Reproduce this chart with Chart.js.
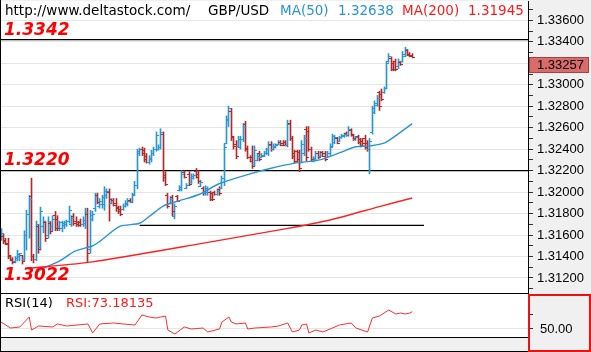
<!DOCTYPE html>
<html><head><meta charset="utf-8">
<script src="https://cdn.jsdelivr.net/npm/chart.js@4.4.1/dist/chart.umd.min.js"></script>
<style>
html,body{margin:0;padding:0;background:#fff;}
#wrap{position:relative;width:591px;height:352px;overflow:hidden;background:#fff;}
canvas{display:block;position:absolute;left:0;}
</style></head><body>
<div id="wrap">
<canvas id="main" width="591" height="294" style="top:0;width:591px;height:294px"></canvas>
<canvas id="rsi" width="591" height="58" style="top:294px;width:591px;height:58px"></canvas>
</div>
<script>
// ---------- DATA ----------
const symbol = 'GBP/USD';
const site = 'http://www.deltastock.com/';
const openP = [1.3157,1.3159,1.3155,1.3153,1.3140,1.3138,1.3136,1.3139,1.3140,1.3141,
1.3138,1.3160,1.3180,1.3196,1.3140,1.3138,1.3168,1.3149,1.3168,1.3172,
1.3160,1.3171,1.3168,1.3179,1.3175,1.3168,1.3167,1.3169,1.3170,1.3173,
1.3170,1.3178,1.3173,1.3172,1.3172,1.3170,1.3171,1.3180,1.3147,1.3175,
1.3185,1.3197,1.3187,1.3189,1.3189,1.3197,1.3200,1.3190,1.3193,1.3190,
1.3186,1.3184,1.3184,1.3187,1.3189,1.3193,1.3191,1.3198,1.3207,1.3236,
1.3240,1.3239,1.3234,1.3228,1.3231,1.3236,1.3240,1.3240,1.3242,1.3254,
1.3216,1.3197,1.3190,1.3195,1.3178,1.3196,1.3202,1.3203,1.3219,1.3204,
1.3217,1.3209,1.3213,1.3220,1.3217,1.3206,1.3204,1.3199,1.3200,1.3200,
1.3199,1.3200,1.3198,1.3203,1.3204,1.3213,1.3246,1.3267,1.3276,1.3251,
1.3245,1.3243,1.3242,1.3249,1.3263,1.3241,1.3233,1.3233,1.3226,1.3230,
1.3236,1.3233,1.3234,1.3236,1.3236,1.3245,1.3240,1.3242,1.3245,1.3247,
1.3246,1.3247,1.3244,1.3264,1.3250,1.3236,1.3238,1.3237,1.3228,1.3236,
1.3259,1.3257,1.3240,1.3229,1.3231,1.3236,1.3234,1.3237,1.3236,1.3233,
1.3236,1.3243,1.3247,1.3250,1.3248,1.3251,1.3252,1.3255,1.3253,1.3258,
1.3253,1.3249,1.3252,1.3249,1.3248,1.3250,1.3246,1.3240,1.3256,1.3275,
1.3281,1.3293,1.3291,1.3293,1.3297,1.3322,1.3325,1.3320,1.3322,1.3317,
1.3321,1.3322,1.3327,1.3332,1.3329,1.3328];
const highP = [1.3166,1.3161,1.3157,1.3157,1.3141,1.3139,1.3140,1.3146,1.3143,1.3141,
1.3164,1.3183,1.3197,1.3213,1.3142,1.3173,1.3170,1.3186,1.3177,1.3173,
1.3177,1.3172,1.3178,1.3182,1.3178,1.3173,1.3173,1.3173,1.3174,1.3187,
1.3178,1.3180,1.3177,1.3173,1.3175,1.3177,1.3185,1.3185,1.3183,1.3182,
1.3199,1.3199,1.3194,1.3197,1.3205,1.3203,1.3203,1.3194,1.3194,1.3194,
1.3187,1.3187,1.3189,1.3192,1.3194,1.3194,1.3199,1.3210,1.3240,1.3241,
1.3242,1.3241,1.3236,1.3234,1.3239,1.3242,1.3256,1.3244,1.3259,1.3256,
1.3219,1.3199,1.3196,1.3197,1.3189,1.3197,1.3206,1.3220,1.3220,1.3208,
1.3219,1.3217,1.3217,1.3222,1.3220,1.3211,1.3205,1.3206,1.3205,1.3201,
1.3200,1.3201,1.3203,1.3205,1.3215,1.3245,1.3271,1.3280,1.3278,1.3252,
1.3248,1.3252,1.3252,1.3264,1.3266,1.3243,1.3234,1.3243,1.3243,1.3236,
1.3238,1.3236,1.3238,1.3241,1.3247,1.3247,1.3245,1.3245,1.3248,1.3248,
1.3248,1.3248,1.3267,1.3267,1.3252,1.3239,1.3239,1.3239,1.3248,1.3253,
1.3261,1.3261,1.3242,1.3233,1.3238,1.3238,1.3238,1.3238,1.3238,1.3238,
1.3245,1.3254,1.3253,1.3251,1.3252,1.3254,1.3255,1.3256,1.3261,1.3259,
1.3254,1.3252,1.3253,1.3250,1.3250,1.3253,1.3248,1.3250,1.3280,1.3285,
1.3290,1.3294,1.3296,1.3298,1.3322,1.3329,1.3326,1.3322,1.3324,1.3324,
1.3322,1.3331,1.3335,1.3333,1.3330,1.3329];
const lowP = [1.3155,1.3152,1.3151,1.3138,1.3136,1.3133,1.3134,1.3136,1.3136,1.3133,
1.3136,1.3146,1.3157,1.3136,1.3134,1.3136,1.3143,1.3146,1.3162,1.3154,
1.3157,1.3161,1.3164,1.3164,1.3164,1.3164,1.3163,1.3166,1.3168,1.3171,
1.3168,1.3169,1.3168,1.3168,1.3168,1.3168,1.3166,1.3135,1.3143,1.3173,
1.3182,1.3189,1.3185,1.3185,1.3183,1.3194,1.3173,1.3189,1.3187,1.3182,
1.3180,1.3178,1.3183,1.3186,1.3187,1.3190,1.3190,1.3197,1.3203,1.3234,
1.3234,1.3228,1.3227,1.3226,1.3228,1.3234,1.3238,1.3239,1.3240,1.3210,
1.3206,1.3185,1.3189,1.3178,1.3175,1.3191,1.3201,1.3201,1.3213,1.3203,
1.3206,1.3208,1.3212,1.3213,1.3208,1.3205,1.3197,1.3197,1.3197,1.3192,
1.3192,1.3197,1.3197,1.3197,1.3203,1.3206,1.3245,1.3261,1.3248,1.3240,
1.3231,1.3242,1.3240,1.3247,1.3238,1.3231,1.3228,1.3222,1.3224,1.3229,
1.3229,1.3232,1.3233,1.3235,1.3234,1.3238,1.3239,1.3241,1.3244,1.3243,
1.3243,1.3243,1.3242,1.3248,1.3231,1.3227,1.3228,1.3219,1.3227,1.3234,
1.3229,1.3238,1.3229,1.3228,1.3229,1.3231,1.3233,1.3233,1.3229,1.3232,
1.3234,1.3242,1.3245,1.3245,1.3247,1.3250,1.3251,1.3252,1.3252,1.3252,
1.3248,1.3248,1.3245,1.3242,1.3243,1.3240,1.3238,1.3217,1.3254,1.3273,
1.3280,1.3276,1.3285,1.3292,1.3296,1.3321,1.3313,1.3313,1.3313,1.3315,
1.3318,1.3321,1.3326,1.3327,1.3326,1.3325];
const closeP = [1.3162,1.3154,1.3152,1.3141,1.3137,1.3135,1.3139,1.3142,1.3143,1.3136,
1.3160,1.3180,1.3194,1.3140,1.3138,1.3170,1.3147,1.3182,1.3173,1.3157,
1.3173,1.3164,1.3175,1.3167,1.3167,1.3172,1.3171,1.3172,1.3173,1.3183,
1.3176,1.3171,1.3170,1.3169,1.3170,1.3174,1.3181,1.3143,1.3179,1.3180,
1.3196,1.3191,1.3192,1.3195,1.3201,1.3201,1.3194,1.3193,1.3188,1.3185,
1.3182,1.3180,1.3187,1.3190,1.3192,1.3191,1.3197,1.3207,1.3238,1.3240,
1.3236,1.3231,1.3228,1.3232,1.3236,1.3240,1.3253,1.3242,1.3256,1.3214,
1.3208,1.3187,1.3194,1.3182,1.3187,1.3192,1.3205,1.3217,1.3214,1.3207,
1.3208,1.3215,1.3216,1.3214,1.3210,1.3209,1.3199,1.3204,1.3203,1.3194,
1.3194,1.3198,1.3201,1.3199,1.3213,1.3242,1.3268,1.3278,1.3252,1.3243,
1.3234,1.3249,1.3249,1.3261,1.3240,1.3233,1.3229,1.3224,1.3239,1.3234,
1.3231,1.3235,1.3236,1.3240,1.3244,1.3240,1.3243,1.3244,1.3247,1.3244,
1.3244,1.3244,1.3263,1.3250,1.3234,1.3229,1.3231,1.3222,1.3245,1.3250,
1.3233,1.3240,1.3231,1.3232,1.3236,1.3233,1.3237,1.3234,1.3231,1.3236,
1.3242,1.3252,1.3251,1.3246,1.3251,1.3253,1.3254,1.3253,1.3259,1.3254,
1.3250,1.3251,1.3247,1.3244,1.3246,1.3242,1.3240,1.3248,1.3278,1.3283,
1.3288,1.3280,1.3287,1.3297,1.3320,1.3327,1.3315,1.3315,1.3315,1.3322,
1.3319,1.3329,1.3333,1.3328,1.3327,1.33257];

// moving averages, read at bar positions
const ma50Idx = [15,18,25,31.5,39,42,50.5,59,63.5,69,76,84.5,93,106,114.5,125,135.5,144.5,150.5,157,163.5,175];
const ma50Val = [1.3125,1.3129,1.3136,1.3145,1.3150,1.3154,1.3168,1.3171,1.3178,1.3187,1.3192,1.3198,1.3208,1.3217,1.3222,1.3227,1.3230,1.3237,1.3242,1.3243,1.3246,1.32638];
const ma200Idx = [12,39,85,121.5,140,161,175];
const ma200Val = [1.3129,1.3135,1.3152,1.3166,1.3174,1.31865,1.31945];

// RSI(14)
const rsiIdx = [0,4,8,12,13,16,22,24,28,37,39,42,48,52,57,60,63,66,68,70,71,74,78,81,86,88,93,94,97,98,100,104,105,108,115,118,122,124,127,128,130,131,134,137,141,144,149,151,156,158,161,163,165,168,170,172,174,175];
const rsiVal = [59.3,51.3,52.7,66,48.7,54,52.7,56.7,54,56.7,44.7,56.7,58,56.7,55.3,68.7,66,64.7,66,67.3,48.7,43.3,52.7,50,51.3,46,50,59.3,66,59.3,56.7,58,50,51.3,52.7,54,58,46,48.7,55.3,56.7,44.7,48.7,46,51.3,55.3,58,51.3,46,64.7,67.3,71.3,75.3,70,71.3,70,71.3,73.18135];

// horizontal levels
const fullLevels = [1.3342, 1.3220];
const supportLevel = 1.3169, supportFrom = 59, supportTo = 180;
const levelLabels = ['1.3342', '1.3220', '1.3022'];
const ma50Last = '1.32638', ma200Last = '1.31945', rsiLast = '73.18135', lastPrice = '1.33257';

// ---------- STYLE ----------
const UP = '#2a97d3', DOWN = '#b22a2a';
const MA50C = '#2b95d4', MA200C = '#ff2222';
const X_MIN = -0.43, X_MAX = 224.25;
const AXIS_W = 63;

const fixPad = (s) => { s.width = AXIS_W; s.paddingTop = 0; s.paddingBottom = 0; };

const bgPlugin = {
  id: 'bg',
  beforeDraw(c) {
    const ctx = c.ctx, a = c.chartArea;
    ctx.save();
    ctx.fillStyle = '#f0f0f0';
    ctx.fillRect(0, 0, c.width, c.height);
    ctx.fillStyle = '#ffffff';
    ctx.fillRect(a.left, a.top, a.right - a.left, a.bottom - a.top);
    ctx.restore();
  }
};

const ohlcTicks = {
  id: 'ohlcTicks',
  beforeDatasetDraw(c, args) {
    if (args.meta.type !== 'bar') return;
    // snap the 1px high-low bars to whole pixels
    args.meta.data.forEach(el => { el.x = Math.round(el.x - 0.5) + 0.5; });
  },
  afterDatasetDraw(c, args) {
    if (args.meta.type !== 'bar') return;
    const ctx = c.ctx, ys = c.scales.y, a = c.chartArea;
    ctx.save();
    ctx.beginPath(); ctx.rect(a.left, a.top, a.right - a.left, a.bottom - a.top); ctx.clip();
    ctx.lineWidth = 1;
    args.meta.data.forEach((el, i) => {
      const x = el.x;
      ctx.strokeStyle = closeP[i] >= openP[i] ? UP : DOWN;
      const yo = Math.round(ys.getPixelForValue(openP[i])) + 0.5;
      const yc = Math.round(ys.getPixelForValue(closeP[i])) + 0.5;
      ctx.beginPath();
      ctx.moveTo(x - 2.5, yo); ctx.lineTo(x, yo);
      ctx.moveTo(x, yc); ctx.lineTo(x + 2.5, yc);
      ctx.stroke();
    });
    ctx.restore();
  }
};

const mainText = {
  id: 'mainText',
  afterDraw(c) {
    const ctx = c.ctx, ys = c.scales.y, a = c.chartArea;
    ctx.save();
    ctx.textBaseline = 'alphabetic';
    ctx.font = '13.5px "DejaVu Sans"';
    ctx.fillStyle = '#000';
    ctx.fillText(site, 5, 15);
    ctx.fillText(symbol, 208, 15);
    ctx.fillStyle = MA50C;
    ctx.fillText('MA(50)', 280, 15);
    ctx.fillText(ma50Last, 338, 15);
    ctx.fillStyle = '#ff1a1a';
    ctx.fillText('MA(200)', 402, 15);
    ctx.fillText(ma200Last, 468, 15);
    // level labels
    ctx.font = 'italic bold 17px "DejaVu Sans"';
    ctx.fillStyle = '#ff0000';
    ctx.fillText(levelLabels[0], 4, Math.round(ys.getPixelForValue(fullLevels[0])) - 5);
    ctx.fillText(levelLabels[1], 4, Math.round(ys.getPixelForValue(fullLevels[1])) - 6);
    ctx.fillText(levelLabels[2], 4, 280);
    // last price box
    const by = 57;
    ctx.fillStyle = '#d96b6b';
    ctx.fillRect(a.right + 1, by, 60, 16);
    ctx.strokeStyle = '#b04040';
    ctx.lineWidth = 1;
    ctx.strokeRect(a.right + 1.5, by + 0.5, 59, 15);
    ctx.fillStyle = '#000';
    ctx.font = '13px "Liberation Sans"';
    ctx.textBaseline = 'middle';
    ctx.fillText(lastPrice, a.right + 9, by + 8.5);
    // frame
    ctx.strokeStyle = '#000';
    ctx.beginPath();
    ctx.moveTo(0.5, 0); ctx.lineTo(0.5, c.height);
    ctx.moveTo(0, c.height - 0.5); ctx.lineTo(a.right, c.height - 0.5);
    ctx.stroke();
    ctx.restore();
  }
};

const levelData = (v, x0, x1) => [{x: x0, y: v}, {x: x1, y: v}];

new Chart(document.getElementById('main'), {
  type: 'bar',
  data: {
    datasets: [
      { type: 'line', data: levelData(fullLevels[0], X_MIN - 1, X_MAX + 1), borderColor: '#000', borderWidth: 1.3, pointRadius: 0, order: 5 },
      { type: 'line', data: levelData(fullLevels[1], X_MIN - 1, X_MAX + 1), borderColor: '#000', borderWidth: 1.3, pointRadius: 0, order: 5 },
      { type: 'line', data: levelData(supportLevel, supportFrom, supportTo), borderColor: '#000', borderWidth: 1.3, pointRadius: 0, order: 5 },
      { type: 'bar', data: lowP.map((l, i) => ({x: i, y: [l, highP[i]]})),
        backgroundColor: closeP.map((c, i) => c >= openP[i] ? UP : DOWN),
        barThickness: 1, grouped: false, borderWidth: 0, order: 3 },
      { type: 'line', data: ma200Idx.map((x, k) => ({x, y: ma200Val[k]})), borderColor: MA200C, borderWidth: 1.4, pointRadius: 0, tension: 0.2, order: 1 },
      { type: 'line', data: ma50Idx.map((x, k) => ({x, y: ma50Val[k]})), borderColor: MA50C, borderWidth: 1.4, pointRadius: 0, tension: 0.25, order: 1 }
    ]
  },
  options: {
    responsive: false, animation: false, events: [],
    layout: { padding: { top: 1, bottom: 1, left: 0, right: 0 } },
    plugins: { legend: { display: false }, tooltip: { enabled: false } },
    scales: {
      x: { type: 'linear', min: X_MIN, max: X_MAX, display: false, offset: false },
      y: {
        position: 'right', min: 1.3106, max: 1.3378,
        afterBuildTicks: (s) => {
          const t = [];
          for (let k = 1311; k <= 1337; k++) t.push({ value: k / 1000 });
          s.ticks = t;
        },
        afterFit: fixPad,
        border: { display: true, color: '#000', width: 1 },
        grid: {
          color: (ctx) => (ctx.tick && Math.round(ctx.tick.value * 1000) % 2 === 0) ? '#e6e6e6' : 'rgba(0,0,0,0)',
          tickColor: '#333', tickLength: 5, drawTicks: true, lineWidth: 1
        },
        ticks: {
          autoSkip: false, padding: 4, color: '#000', font: { family: 'Liberation Sans', size: 13 },
          callback: (v) => {
            const k = Math.round(v * 1000);
            if (k % 2 !== 0 || k === 1332) return '';
            return (k / 1000).toFixed(5);
          }
        }
      }
    }
  },
  plugins: [bgPlugin, ohlcTicks, mainText]
});

const rsiText = {
  id: 'rsiText',
  afterDraw(c) {
    const ctx = c.ctx, a = c.chartArea;
    ctx.save();
    ctx.font = '13px "DejaVu Sans"';
    ctx.textBaseline = 'alphabetic';
    ctx.fillStyle = '#000';
    ctx.fillText('RSI(14)', 5, 13);
    ctx.fillStyle = '#ff1a1a';
    ctx.fillText('RSI:' + rsiLast, 66, 13);
    // bottom strip
    ctx.fillStyle = '#f0f0f0';
    ctx.fillRect(0, a.bottom, a.right, c.height - a.bottom);
    ctx.strokeStyle = '#000';
    ctx.lineWidth = 1;
    ctx.beginPath();
    ctx.moveTo(0, a.bottom + 0.5); ctx.lineTo(a.right, a.bottom + 0.5);
    ctx.moveTo(0.5, 0); ctx.lineTo(0.5, c.height);
    ctx.moveTo(0, c.height - 0.5); ctx.lineTo(a.right, c.height - 0.5);
    ctx.stroke();
    // red frame around axis area
    ctx.strokeStyle = '#ee1111';
    ctx.lineWidth = 2;
    ctx.strokeRect(a.right + 1, 1, c.width - a.right - 2, c.height - 2);
    ctx.restore();
  }
};

new Chart(document.getElementById('rsi'), {
  type: 'line',
  data: {
    datasets: [
      { data: rsiIdx.map((x, k) => ({x, y: rsiVal[k]})), borderColor: '#ff3030', borderWidth: 1, pointRadius: 0, tension: 0 }
    ]
  },
  options: {
    responsive: false, animation: false, events: [],
    layout: { padding: { top: 0, bottom: 15, left: 0, right: 0 } },
    plugins: { legend: { display: false }, tooltip: { enabled: false } },
    scales: {
      x: { type: 'linear', min: X_MIN, max: X_MAX, display: false },
      y: {
        position: 'right', min: 39.33, max: 96.67,
        afterBuildTicks: (s) => { s.ticks = [{ value: 50 }, { value: 70 }]; },
        afterFit: fixPad,
        border: { display: true, color: '#000', width: 1 },
        grid: {
          color: (ctx) => (ctx.tick && ctx.tick.value === 50) ? '#e6e6e6' : 'rgba(0,0,0,0)',
          tickColor: '#333', tickLength: 5, drawTicks: true
        },
        ticks: {
          autoSkip: false, padding: 7, color: '#000', font: { family: 'Liberation Sans', size: 13 },
          callback: (v) => v === 50 ? '50.00' : ''
        }
      }
    }
  },
  plugins: [bgPlugin, rsiText]
});
</script>
</body></html>
